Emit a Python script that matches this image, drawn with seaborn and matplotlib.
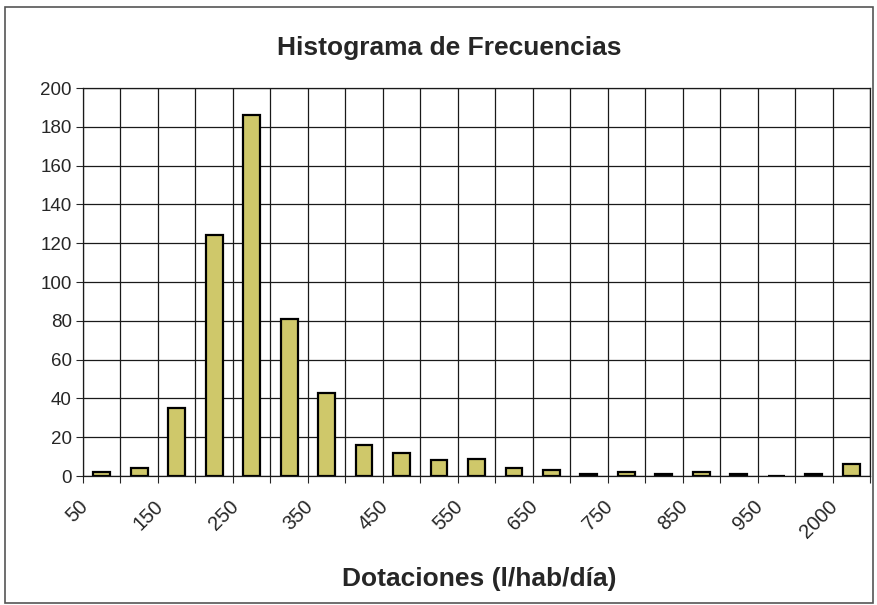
import matplotlib
matplotlib.use('Agg')
import matplotlib.pyplot as plt
import matplotlib.transforms as mtransforms
import seaborn as sns
import pandas as pd
import numpy as np

# clases de dotación (l/hab/día) y frecuencias
clases = ['50', '100', '150', '200', '250', '300', '350', '400', '450', '500',
          '550', '600', '650', '700', '750', '800', '850', '900', '950', '1000', '2000']
frecuencias = [2, 4, 35, 124, 186, 81, 43, 16, 12, 8,
               9, 4, 3, 1, 2, 1, 2, 1, 0, 1, 6]
etiquetas = ['50', '', '150', '', '250', '', '350', '', '450', '',
             '550', '', '650', '', '750', '', '850', '', '950', '', '2000']

df = pd.DataFrame({'clase': clases, 'frecuencia': frecuencias})

sns.set_style('white')
plt.rcParams['font.family'] = ['Liberation Sans', 'DejaVu Sans']

fig = plt.figure(figsize=(8.77, 6.05), dpi=100)
ax = fig.add_axes([0.0946, 0.2132, 0.8974, 0.6413])

sns.barplot(data=df, x='clase', y='frecuencia', order=clases, color='#CFC86A',
            edgecolor='black', linewidth=1.6, width=0.45, saturation=1, ax=ax)

n = len(clases)
ax.set_yticks(np.arange(0, 201, 20))
ax.tick_params(axis='y', labelsize=13.5, length=5, width=0.8, direction='out', left=True, pad=3)

# rejilla en los límites de cada clase
ax.set_xticks(np.arange(-0.5, n, 1), minor=True)
ax.set_xticks([])
ax.tick_params(axis='x', which='minor', length=5, width=0.8, direction='out', bottom=True)
ax.set_xlim(-0.5, n - 0.5)
ax.set_ylim(0, 200)

# etiquetas giradas, desplazadas a la izquierda del centro como en Excel
desplaza = mtransforms.ScaledTranslation(-0.23, -0.21, fig.dpi_scale_trans)
for i, lab in enumerate(etiquetas):
    if lab:
        ax.text(i, 0, lab, transform=ax.get_xaxis_transform() + desplaza,
                rotation=45, rotation_mode='anchor', ha='right', va='top', fontsize=14.5)

ax.grid(True, axis='x', which='minor', color='#1a1a1a', linewidth=0.9)
ax.grid(True, axis='y', which='major', color='#1a1a1a', linewidth=0.9)
ax.set_axisbelow(True)
for s in ax.spines.values():
    s.set_color('#1a1a1a')
    s.set_linewidth(0.9)

ax.set_xlabel('Dotaciones (l/hab/día)', fontsize=19, fontweight='bold')
ax.xaxis.set_label_coords(0.503, -0.235)
ax.set_ylabel('')
fig.text(0.512, 0.921, 'Histograma de Frecuencias', ha='center', va='center',
         fontsize=19, fontweight='bold')

# marco exterior del gráfico
fig.patches.append(plt.Rectangle((0.006, 0.004), 0.99, 0.984, transform=fig.transFigure,
                                 fill=False, edgecolor='#555555', linewidth=1.2))

fig.savefig('out.png', dpi=100)
